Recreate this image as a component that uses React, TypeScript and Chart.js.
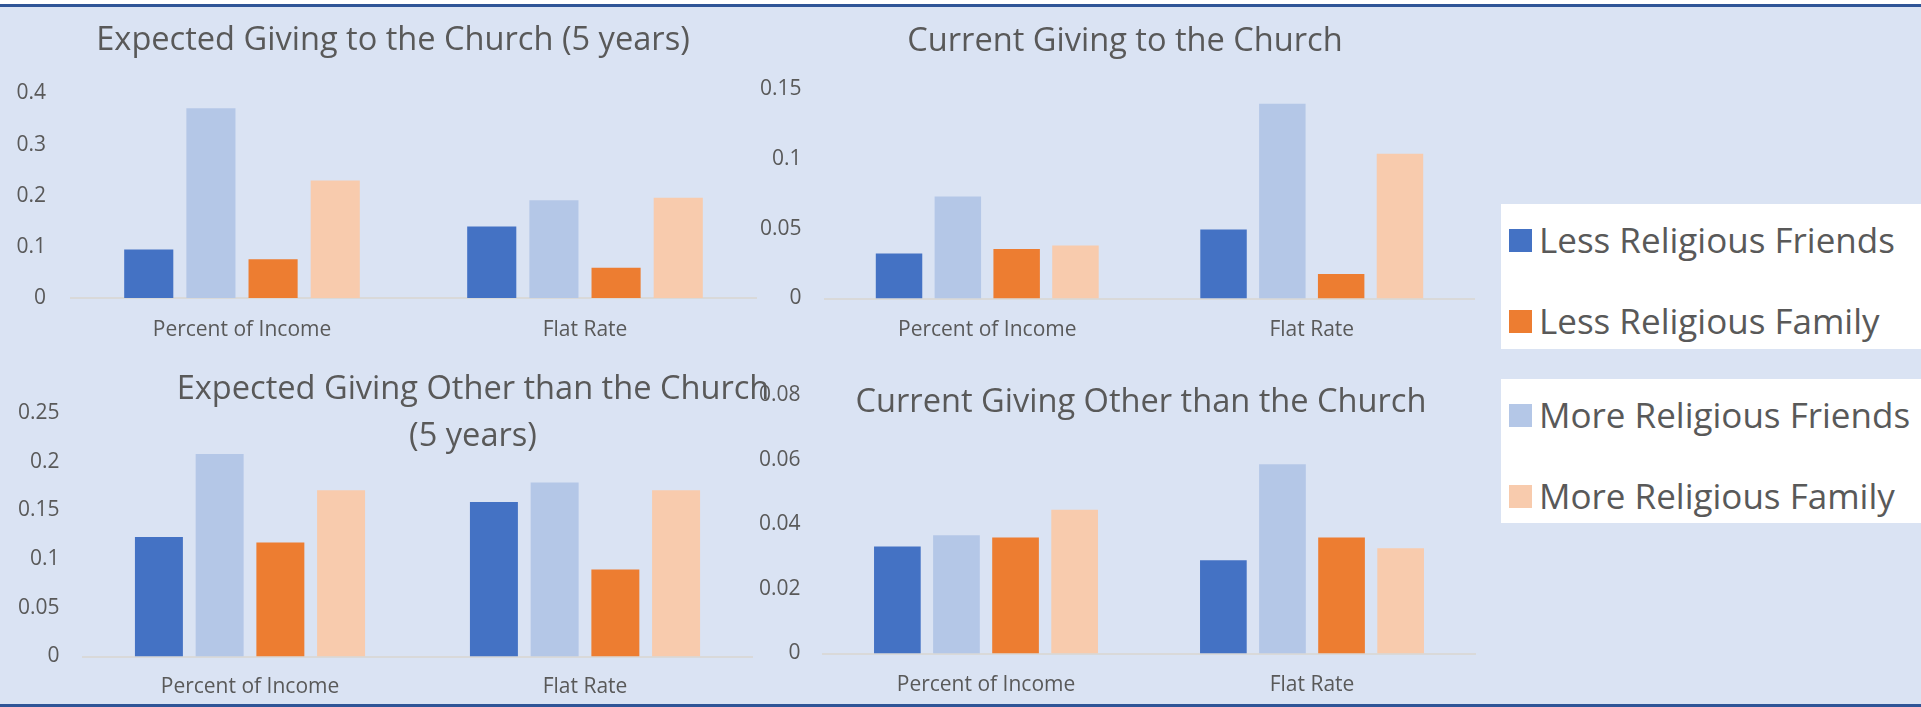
import React, { useEffect, useRef } from 'react';
import { Chart, registerables } from 'chart.js';

Chart.register(...registerables);

const FONT = "'Open Sans', 'Noto Sans', sans-serif";
const TEXT_COLOR = '#595959';

const categories = ['Percent of Income', 'Flat Rate'];
const seriesNames = ['Less Religious Friends', 'More Religious Friends', 'Less Religious Family', 'More Religious Family'];
const seriesColors = ['#4472C4', '#B4C7E7', '#ED7D31', '#F8CBAD'];

// Expected Giving to the Church (5 years)
const expChurchLessFriends = [0.095, 0.14];
const expChurchMoreFriends = [0.371, 0.191];
const expChurchLessFamily = [0.076, 0.059];
const expChurchMoreFamily = [0.23, 0.196];
const expChurchTicks = [0, 0.1, 0.2, 0.3, 0.4];

// Current Giving to the Church
const curChurchLessFriends = [0.0323, 0.0494];
const curChurchMoreFriends = [0.073, 0.1394];
const curChurchLessFamily = [0.0354, 0.0175];
const curChurchMoreFamily = [0.038, 0.1037];
const curChurchTicks = [0, 0.05, 0.1, 0.15];

// Expected Giving Other than the Church (5 years)
const expOtherLessFriends = [0.1228, 0.1587];
const expOtherMoreFriends = [0.208, 0.1786];
const expOtherLessFamily = [0.117, 0.0893];
const expOtherMoreFamily = [0.1707, 0.1707];
const expOtherTicks = [0, 0.05, 0.1, 0.15, 0.2, 0.25];

// Current Giving Other than the Church
const curOtherLessFriends = [0.0331, 0.0289];
const curOtherMoreFriends = [0.0366, 0.0586];
const curOtherLessFamily = [0.0359, 0.0359];
const curOtherMoreFamily = [0.0445, 0.0326];
const curOtherTicks = [0, 0.02, 0.04, 0.06, 0.08];

type PanelCfg = {
  title: string[];
  series: number[][];
  ticks: number[];
  left: number;
  top: number;
  width: number;
  height: number;
  padding: { top: number; left: number; right: number; bottom: number };
  yWidth: number;
  yPad: number;
  xHeight: number;
  xPad: number;
  titleX: number;
  titleY: number;
  titleGap: number;
};

const panels: PanelCfg[] = [
  {
    title: ['Expected Giving to the Church (5 years)'],
    series: [expChurchLessFriends, expChurchMoreFriends, expChurchLessFamily, expChurchMoreFamily],
    ticks: expChurchTicks,
    left: 0, top: 8, width: 786, height: 342,
    padding: { top: 85.5, left: 0, right: 29.5, bottom: 0 },
    yWidth: 70.5, yPad: 24.5, xHeight: 52, xPad: 19.4,
    titleX: 393, titleY: 32.5, titleGap: 46.5,
  },
  {
    title: ['Current Giving to the Church'],
    series: [curChurchLessFriends, curChurchMoreFriends, curChurchLessFamily, curChurchMoreFamily],
    ticks: curChurchTicks,
    left: 740, top: 8, width: 754, height: 342,
    padding: { top: 81, left: 0, right: 20, bottom: 0 },
    yWidth: 85, yPad: 23.5, xHeight: 51.5, xPad: 18.9,
    titleX: 385, titleY: 33.8, titleGap: 46.5,
  },
  {
    title: ['Expected Giving Other than the Church', '(5 years)'],
    series: [expOtherLessFriends, expOtherMoreFriends, expOtherLessFamily, expOtherMoreFamily],
    ticks: expOtherTicks,
    left: 0, top: 360, width: 780, height: 343,
    padding: { top: 53, left: 0, right: 27.5, bottom: 0 },
    yWidth: 82.5, yPad: 23, xHeight: 46.5, xPad: 18.4,
    titleX: 473, titleY: 30, titleGap: 46.5,
  },
  {
    title: ['Current Giving Other than the Church'],
    series: [curOtherLessFriends, curOtherMoreFriends, curOtherLessFamily, curOtherMoreFamily],
    ticks: curOtherTicks,
    left: 740, top: 360, width: 754, height: 343,
    padding: { top: 23.5, left: 0, right: 19, bottom: 0 },
    yWidth: 83, yPad: 22.5, xHeight: 49.5, xPad: 18.9,
    titleX: 401, titleY: 42.8, titleGap: 46.5,
  },
];

const formatTick = (v: number | string) => String(Number(Number(v).toFixed(4)));

function Panel({ cfg }: { cfg: PanelCfg }) {
  const ref = useRef<HTMLCanvasElement>(null);
  useEffect(() => {
    const titlePlugin = {
      id: 'panelTitle',
      afterDraw(chart: any) {
        const ctx = chart.ctx;
        ctx.save();
        ctx.font = `32.6px ${FONT}`;
        ctx.fillStyle = TEXT_COLOR;
        ctx.textAlign = 'center';
        ctx.textBaseline = 'middle';
        cfg.title.forEach((line, i) => ctx.fillText(line, cfg.titleX, cfg.titleY + i * cfg.titleGap));
        ctx.restore();
      },
    };
    const t = cfg.ticks;
    const chart = new Chart(ref.current as HTMLCanvasElement, {
      type: 'bar',
      data: {
        labels: categories,
        datasets: cfg.series.map((d, i) => ({
          label: seriesNames[i],
          data: d,
          backgroundColor: seriesColors[i],
          borderWidth: 0,
          categoryPercentage: 0.725,
          barPercentage: 0.79,
        })),
      },
      options: {
        responsive: false,
        maintainAspectRatio: false,
        animation: false,
        events: [],
        layout: { padding: cfg.padding },
        plugins: {
          legend: { display: false },
          title: { display: false },
          tooltip: { enabled: false },
        },
        scales: {
          x: {
            grid: { display: false, drawTicks: false },
            border: { display: true, color: '#D9D9D9', width: 2 },
            ticks: { color: TEXT_COLOR, font: { family: FONT, size: 21 }, padding: cfg.xPad, maxRotation: 0 },
            afterFit: (s: any) => { s.height = cfg.xHeight; },
          },
          y: {
            min: t[0],
            max: t[t.length - 1],
            grid: { display: false, drawTicks: false },
            border: { display: false },
            ticks: {
              stepSize: t[1] - t[0],
              color: TEXT_COLOR,
              font: { family: FONT, size: 21 },
              padding: cfg.yPad,
              callback: (v: any) => formatTick(v),
            },
            afterFit: (s: any) => { s.width = cfg.yWidth; },
          },
        },
      },
      plugins: [titlePlugin],
    });
    return () => chart.destroy();
  }, [cfg]);
  return (
    <canvas
      ref={ref}
      width={cfg.width}
      height={cfg.height}
      style={{ position: 'absolute', left: cfg.left, top: cfg.top, width: cfg.width, height: cfg.height }}
    />
  );
}

const legendBoxes = [
  { top: 204, height: 145, items: [0, 2] },
  { top: 379, height: 144, items: [1, 3] },
];

export default function App() {
  return (
    <div style={{ position: 'fixed', left: 0, top: 0, width: 1921, height: 707, background: '#ffffff', overflow: 'hidden', fontFamily: FONT }}>
      <div style={{ position: 'absolute', left: 0, top: 4, width: 1921, height: 703, background: '#DAE3F3', borderTop: '3px solid #2F5597', borderBottom: '3px solid #2F5597', boxSizing: 'border-box' }} />
      {panels.map((p, i) => <Panel key={i} cfg={p} />)}
      {legendBoxes.map((b, bi) => (
        <div key={bi} style={{ position: 'absolute', left: 1501, top: b.top, width: 420, height: b.height, background: '#ffffff' }}>
          {b.items.map((si, ri) => (
            <React.Fragment key={si}>
              <div style={{ position: 'absolute', left: 8, top: 25.3 + ri * 80.7, width: 23, height: 23, background: seriesColors[si] }} />
              <div style={{ position: 'absolute', left: 38, top: 18.2 + ri * 80.7, fontSize: 35, lineHeight: '35px', color: TEXT_COLOR, whiteSpace: 'nowrap' }}>
                {seriesNames[si]}
              </div>
            </React.Fragment>
          ))}
        </div>
      ))}
    </div>
  );
}
